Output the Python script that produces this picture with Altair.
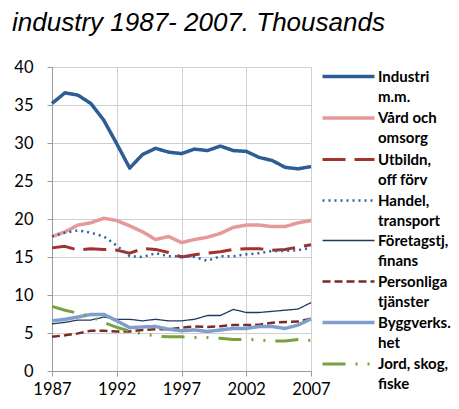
import altair as alt
import pandas as pd

years = list(range(1987, 2008))

series_names = [
    "Industri m.m.",
    "Vård och omsorg",
    "Utbildn, off förv",
    "Handel, transport",
    "Företagstj, finans",
    "Personliga tjänster",
    "Byggverks. het",
    "Jord, skog, fiske",
]
legend_lines = [
    ["Industri", "m.m."],
    ["Vård och", "omsorg"],
    ["Utbildn,", "off förv"],
    ["Handel,", "transport"],
    ["Företagstj,", "finans"],
    ["Personliga", "tjänster"],
    ["Byggverks.", "het"],
    ["Jord, skog,", "fiske"],
]

industri = [35.2, 36.6, 36.3, 35.2, 33.0, 29.9, 26.7, 28.5, 29.3, 28.8, 28.6,
            29.2, 29.0, 29.6, 29.0, 28.9, 28.1, 27.7, 26.8, 26.6, 26.9]
vard = [17.7, 18.3, 19.2, 19.5, 20.1, 19.8, 19.1, 18.3, 17.3, 17.7, 16.9,
        17.3, 17.6, 18.1, 18.9, 19.2, 19.2, 19.0, 19.0, 19.5, 19.8]
utbildn = [16.2, 16.4, 15.9, 16.1, 16.0, 15.9, 15.5, 16.1, 16.0, 15.6, 15.0,
           15.3, 15.5, 15.7, 16.0, 16.1, 16.1, 15.9, 16.0, 16.3, 16.6]
handel = [17.7, 18.2, 18.5, 18.2, 17.7, 16.5, 15.1, 15.0, 15.5, 15.1, 15.1,
          15.0, 14.5, 15.1, 15.1, 15.35, 15.5, 15.8, 15.8, 15.9, 16.2]
foretag = [6.2, 6.4, 6.7, 6.7, 7.1, 6.8, 6.8, 6.6, 6.8, 6.6, 6.6,
           6.8, 7.3, 7.3, 8.1, 7.7, 7.7, 7.85, 8.0, 8.15, 9.0]
personliga = [4.5, 4.7, 4.95, 5.3, 5.3, 5.2, 5.2, 5.4, 5.5, 5.5, 5.7,
              5.85, 5.8, 5.9, 6.05, 6.05, 6.1, 6.35, 6.45, 6.5, 6.9]
bygg = [6.6, 6.8, 7.1, 7.45, 7.45, 6.6, 5.7, 5.8, 5.85, 5.5, 5.3,
        5.4, 5.2, 5.4, 5.6, 5.6, 5.85, 5.85, 5.6, 6.05, 6.85]
jord = [8.5, 8.0, 7.6, 7.15, 6.4, 5.75, 5.25, 4.9, 4.6, 4.5, 4.5,
        4.4, 4.4, 4.3, 4.15, 4.15, 4.1, 3.95, 3.95, 4.15, 4.0]

x_ticks = [1987, 1992, 1997, 2002, 2007]
y_ticks = [0, 5, 10, 15, 20, 25, 30, 35, 40]

colors = ["#2E5C95", "#E5999A", "#A3312F", "#2D62A6",
          "#1F3A60", "#7B2A2A", "#7F9ECB", "#78A23F"]
dashes = [[1, 0], [1, 0], [23, 9], [2, 4], [1, 0], [8, 4], [1, 0],
          [23, 10, 2, 10, 2, 10]]
widths = [3.5, 3.5, 3, 2.5, 1.3, 2.5, 3.5, 3]

all_values = [industri, vard, utbildn, handel, foretag, personliga, bygg, jord]
rows = []
for name, vals in zip(series_names, all_values):
    for yr, v in zip(years, vals):
        rows.append({"Year": yr, "Series": name, "Value": v})
df = pd.DataFrame(rows)

expr = "''"
for name, lines in reversed(list(zip(series_names, legend_lines))):
    arr = "[" + ",".join("'" + l + "'" for l in lines) + "]"
    expr = f"datum.label == '{name}' ? {arr} : ({expr})"

legend = alt.Legend(
    title=None, orient="none", legendX=271, legendY=-1,
    symbolType="M-3,0H3", symbolSize=300, symbolOffset=15,
    labelFont="Lato", labelFontWeight="bold", labelFontSize=15,
    labelColor="black", labelBaseline="middle",
    labelOffset=19, labelLimit=300, rowPadding=2.5, labelExpr=expr,
)

axis_common = dict(
    title=None, grid=True, gridColor="#d0d0d0", gridWidth=1,
    domainColor="#9a9a9a", tickColor="#9a9a9a", tickSize=5,
    labelFont="Lato", labelFontSize=16.5, labelColor="black", labelFlush=False,
)

chart = alt.Chart(df).mark_line(strokeCap="butt", strokeJoin="round").encode(
    x=alt.X("Year:Q",
            scale=alt.Scale(domain=[1987, 2007], nice=False, zero=False),
            axis=alt.Axis(values=x_ticks, format="d", labelPadding=5, **axis_common)),
    y=alt.Y("Value:Q",
            scale=alt.Scale(domain=[0, 40], nice=False),
            axis=alt.Axis(values=y_ticks, labelPadding=14, **axis_common)),
    color=alt.Color("Series:N", scale=alt.Scale(domain=series_names, range=colors),
                    legend=legend),
    strokeDash=alt.StrokeDash("Series:N", scale=alt.Scale(domain=series_names, range=dashes),
                              legend=legend),
    strokeWidth=alt.StrokeWidth("Series:N",
                                scale=alt.Scale(type="ordinal", domain=series_names, range=widths),
                                legend=legend),
).properties(
    width=259, height=304,
    padding={"left": 44, "top": 59, "right": 140, "bottom": 26},
    autosize=alt.AutoSizeParams(type="none"),
    title=alt.TitleParams(
        text=["Employed (16-64 years), by different", "industry 1987- 2007. Thousands"],
        anchor="start", frame="group", font="Liberation Sans", fontSize=26,
        fontStyle="italic", fontWeight="normal", color="black", lineHeight=31,
        dx=-40, dy=3, baseline="bottom", offset=0,
    ),
).configure(
    style={"guide-label": {"lineHeight": 20}}
).configure_view(stroke=None)

chart.save("out.html", embed_options={"renderer": "svg", "actions": False})
